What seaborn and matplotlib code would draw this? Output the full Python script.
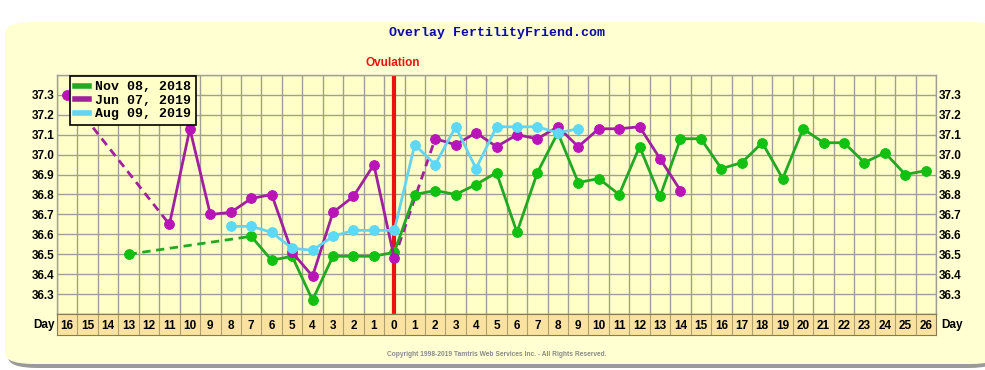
import numpy as np
import pandas as pd
import matplotlib
matplotlib.use('Agg')
import matplotlib.pyplot as plt
from matplotlib.patches import FancyBboxPatch
from matplotlib.lines import Line2D
import seaborn as sns

# dias relativos a ovulacao (0) e temperaturas
nov_dias = [-13, -7, -6, -5, -4, -3, -2, -1, 0, 1, 2, 3, 4, 5, 6, 7, 8, 9, 10, 11, 12, 13,
            14, 15, 16, 17, 18, 19, 20, 21, 22, 23, 24, 25, 26]
nov_temp = [36.50, 36.59, 36.47, 36.49, 36.27, 36.49, 36.49, 36.49, 36.51, 36.80, 36.82, 36.80,
            36.85, 36.91, 36.61, 36.91, 37.11, 36.86, 36.88, 36.80, 37.04, 36.79,
            37.08, 37.08, 36.93, 36.96, 37.06, 36.88, 37.13, 37.06, 37.06, 36.96, 37.01, 36.90, 36.92]

jun_dias = [-16, -11, -10, -9, -8, -7, -6, -5, -4, -3, -2, -1, 0, 2, 3, 4, 5, 6, 7, 8, 9, 10,
            11, 12, 13, 14]
jun_temp = [37.30, 36.65, 37.13, 36.70, 36.71, 36.78, 36.80, 36.51, 36.39, 36.71, 36.79, 36.95,
            36.48, 37.08, 37.05, 37.11, 37.04, 37.10, 37.08, 37.14, 37.04, 37.13, 37.13, 37.14,
            36.98, 36.82]

ago_dias = [-8, -7, -6, -5, -4, -3, -2, -1, 0, 1, 2, 3, 4, 5, 6, 7, 8, 9]
ago_temp = [36.64, 36.64, 36.61, 36.53, 36.52, 36.59, 36.62, 36.62, 36.62, 37.05, 36.95, 37.14,
            36.93, 37.14, 37.14, 37.14, 37.11, 37.13]

series = ['Nov 08, 2018', 'Jun 07, 2019', 'Aug 09, 2019']
cores_linha = ['#22A822', '#A0209E', '#66D4F0']
cores_ponto = ['#11C011', '#B814B8', '#5CD8F8']

dias_labels = [str(abs(d)) for d in range(-16, 27)]
temp_ticks = [36.3, 36.4, 36.5, 36.6, 36.7, 36.8, 36.9, 37.0, 37.1, 37.2, 37.3]

# montar dataframe com segmentos (dias consecutivos) e ligacoes tracejadas
linhas = []
gaps = []
for nome, dias, temps in zip(series, [nov_dias, jun_dias, ago_dias], [nov_temp, jun_temp, ago_temp]):
    seg = 0
    for i, (d, t) in enumerate(zip(dias, temps)):
        if i > 0 and d - dias[i - 1] > 1:
            seg += 1
            gaps.append({'serie': nome, 'dia': dias[i - 1], 'temp': temps[i - 1], 'gap': f'{nome}-{seg}'})
            gaps.append({'serie': nome, 'dia': d, 'temp': t, 'gap': f'{nome}-{seg}'})
        linhas.append({'serie': nome, 'dia': d, 'temp': t, 'seg': f'{nome}-{seg}'})
df = pd.DataFrame(linhas)
df_gap = pd.DataFrame(gaps)

W, H = 985, 370
fig = plt.figure(figsize=(W / 100, H / 100), dpi=100, facecolor='white')

def px(x0, y0, x1, y1):
    return [x0 / W, 1 - y1 / H, (x1 - x0) / W, (y1 - y0) / H]

# fundo amarelo arredondado com sombra
fig.patches.append(FancyBboxPatch((8 / W, 1 - 368 / H), 990 / W, 340 / H,
                                  boxstyle='round,pad=0,rounding_size=0.03', transform=fig.transFigure,
                                  facecolor='#9a9a9a', edgecolor='none', zorder=-2))
fig.patches.append(FancyBboxPatch((5 / W, 1 - 364 / H), 995 / W, 342 / H,
                                  boxstyle='round,pad=0,rounding_size=0.03', transform=fig.transFigure,
                                  facecolor='#FFFFD2', edgecolor='none', zorder=-1))

ax = fig.add_axes(px(57, 75, 936, 314))
ax.set_facecolor('#FFFFC8')
ax.set_xlim(-16.5, 26.5)
ax.set_ylim(36.2, 37.4)

# grade
for xv in np.arange(-16.5, 27, 1):
    ax.axvline(xv, color='#A09F95', lw=1.0, zorder=1)
for yv in np.arange(36.2, 37.45, 0.1):
    ax.axhline(yv, color='#A09F95', lw=1.0, zorder=1)

ax.axvline(0, color='#EE1111', lw=3, zorder=2)

sns.lineplot(data=df_gap, x='dia', y='temp', hue='serie', units='gap', estimator=None,
             palette=dict(zip(series, cores_linha)), hue_order=series, linestyle=(0, (3, 2)),
             lw=2, legend=False, ax=ax, zorder=3)
for nome, cl, cp in zip(series, cores_linha, cores_ponto):
    sub = df[df['serie'] == nome]
    sns.lineplot(data=sub, x='dia', y='temp', units='seg', estimator=None, color=cl, lw=2,
                 marker='o', markersize=7, markerfacecolor=cp, markeredgecolor=cp,
                 legend=False, ax=ax, zorder=4)

ax.set_xticks([])
ax.set_yticks(temp_ticks)
ax.set_yticklabels([f'{t:.1f}' for t in temp_ticks], fontsize=8.5, fontweight='bold',
                   family='Liberation Sans')
ax.tick_params(axis='y', length=0, pad=2, labelright=True)
ax.set_xlabel('')
ax.set_ylabel('')
for s in ax.spines.values():
    s.set_color('#A09F95')
    s.set_linewidth(1.0)

# legenda
handles = [Line2D([0], [0], color=c, lw=4) for c in cores_linha]
leg = ax.legend(handles, series, loc='upper left', bbox_to_anchor=(12 / 879, 1.0),
                prop={'family': 'Liberation Mono', 'weight': 'bold', 'size': 9.5},
                frameon=True, fancybox=False, edgecolor='black', facecolor='#FFFFC8', framealpha=1,
                handlelength=1.1, handletextpad=0.45, borderpad=0.35, labelspacing=0.1,
                borderaxespad=0.1)
leg.get_frame().set_linewidth(1.2)
leg.set_zorder(10)

# linha de dias
axd = fig.add_axes(px(57, 314, 936, 335))
axd.set_facecolor('#FAE3A0')
axd.set_xlim(-16.5, 26.5)
axd.set_ylim(0, 1)
for xv in np.arange(-16.5, 27, 1):
    axd.axvline(xv, color='#B0A070', lw=0.8)
for d, lab in zip(range(-16, 27), dias_labels):
    axd.text(d, 0.45, lab, ha='center', va='center', fontsize=8.5, fontweight='bold',
             family='Liberation Sans')
axd.set_xticks([])
axd.set_yticks([])
for s in axd.spines.values():
    s.set_color('#8a7a50')
    s.set_linewidth(0.8)

fig.text(44 / W, 1 - 325 / H, 'Day', ha='center', va='center', fontsize=8.5, fontweight='bold',
         family='Liberation Sans')
fig.text(952 / W, 1 - 325 / H, 'Day', ha='center', va='center', fontsize=8.5, fontweight='bold',
         family='Liberation Sans')

fig.text(497 / W, 1 - 33 / H, 'Overlay FertilityFriend.com', ha='center', va='center',
         fontsize=9.5, fontweight='bold', family='Liberation Mono', color='#0A0AA8')
fig.text(393 / W, 1 - 63 / H, 'Ovulation', ha='center', va='center', fontsize=8.5,
         fontweight='bold', family='Liberation Sans', color='#EE1111')
fig.text(497 / W, 1 - 355 / H, 'Copyright 1998-2019 Tamtris Web Services Inc. - All Rights Reserved.',
         ha='center', va='center', fontsize=4.8, fontweight='bold', family='Liberation Sans',
         color='#8a8a8a')

fig.savefig('out.png', dpi=100, facecolor='white')
